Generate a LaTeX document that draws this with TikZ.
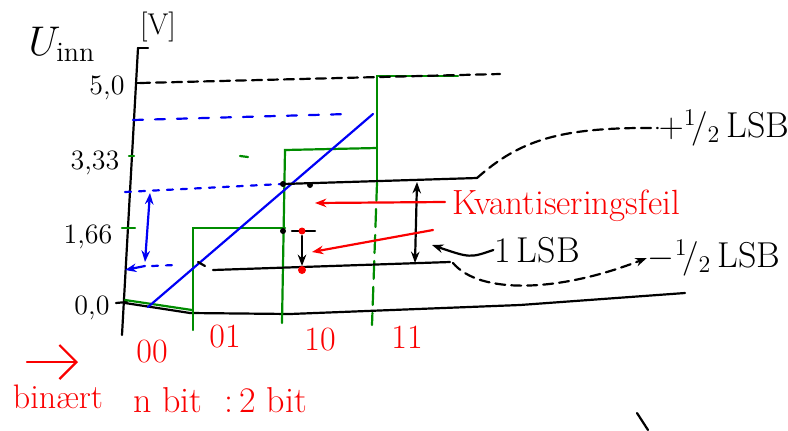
\documentclass[tikz,border=0pt]{standalone}
\usepackage{amsmath,amssymb}
\usepackage{tikz}
\usetikzlibrary{positioning,arrows.meta}
\usepackage{xcolor}
\definecolor{pengreen}{RGB}{0,140,0}
\definecolor{penred}{RGB}{250,0,0}
\definecolor{penblue}{RGB}{0,0,245}

\begin{document}
\begin{tikzpicture}[x=0.5pt,y=-0.5pt,>={Stealth[length=2mm]},line width=1.1pt,line cap=round,
  lbl/.style={font=\fontsize{14}{16}\selectfont,inner sep=0pt},
  redlbl/.style={lbl,text=penred},
  stair/.style={pengreen},
  ramp/.style={penblue},
  pendash/.style={dash pattern=on 5pt off 3pt}]
\useasboundingbox (0,0) rectangle (788,430);
% axes
\draw (138,48) -- (122,335);
\draw (138,48) -- (148,48);
\draw (116,303) -- (127,302);
\draw (125,303) -- (190,313) -- (290,314) -- (520,305) -- (685,293);
\node[lbl,font=\fontsize{20}{22}\selectfont] (uin) at (62,44) {$U_{\text{inn}}$};
\node[lbl,font=\fontsize{15}{17}\selectfont] (unit) at (158,27) {[V]};
\node[lbl] (t50) at (107,88) {5,0};
\node[lbl] (t33) at (95,163) {3,33};
\node[lbl] (t16) at (88,237) {1,66};
\node[lbl] (t00) at (92,308) {0,0};
% staircase
\draw[stair] (129,156) -- (134,156);
\draw[stair] (122,228) -- (135,228);
\draw[stair] (125,300) -- (192,310);
\draw[stair] (193,330) -- (193,228) -- (285,228);
\draw[stair] (282,323) -- (285,150) -- (377,148);
\draw[stair] (240,156) -- (248,157);
\draw[stair] (377,183) -- (377,76) -- (458,76);
\draw[stair,dash pattern=on 9pt off 4pt] (377,183) -- (372,325);
% ramp
\draw (137,83) -- (140,83);
\draw[pendash] (140,83) -- (500,74);
\draw[ramp] (148,307) -- (373,114);
\draw[ramp,dash pattern=on 5pt off 6pt] (133,120) -- (348,114);
\draw[ramp,dash pattern=on 3pt off 4pt] (125,192) -- (282,184);
\draw[ramp,<->] (150,193) -- (145,262);
\draw[ramp,->] (145,266) -- (125,270);
\draw[ramp,dash pattern=on 3pt off 4pt] (152,266) -- (175,265);
% error band
\coordinate (bandtop) at (477,178);
\coordinate (bandlow) at (453,263);
\draw (283,184) -- (bandtop);
\draw (213,270) -- (450,262);
\draw (198,262) -- (205,266);
\draw (292,231) -- (315,231);
\fill (283,184) circle (3);
\fill (310,185) circle (3);
\fill (283,231) circle (3);
\fill[penred] (302,231) circle (3.5);
\fill[penred] (302,270) circle (4);
\draw[->] (302,236) -- (302,266);
\draw[<->] (417,182) -- (415,263);
% labels
\node[lbl,font=\fontsize{18}{20}\selectfont] (plus) at (724,128) {$+{}^{1}\!/_{2}$\,LSB};
\node[lbl,font=\fontsize{18}{20}\selectfont] (minus) at (714,258) {$-{}^{1}\!/_{2}$\,LSB};
\node[lbl,font=\fontsize{18}{20}\selectfont] (lsb) at (537,250) {1\,LSB};
\node[redlbl,font=\fontsize{17.5}{20}\selectfont] (kfeil) at (566,206) {Kvantiseringsfeil};
\draw[pendash] (bandtop) .. controls (520,140) and (560,127) .. (plus.west);
\draw[pendash,->] (bandlow) .. controls (480,295) and (560,292) .. (minus.west);
\draw[->] (lsb.west) .. controls (470,258) .. (432,245);
\draw[penred,->] (445,202) -- (315,203);
\draw[penred,->] (433,230) -- (312,252);
% codes
\node[redlbl,font=\fontsize{17}{19}\selectfont] (c00) at (152,352) {00};
\node[redlbl,font=\fontsize{17}{19}\selectfont] (c01) at (225,337) {01};
\node[redlbl,font=\fontsize{17}{19}\selectfont] (c10) at (320,340) {10};
\node[redlbl,font=\fontsize{17}{19}\selectfont] (c11) at (407,337) {11};
\node[redlbl,font=\fontsize{17}{19}\selectfont] (bin) at (58,397) {binært};
\draw[penred,-{Straight Barb[length=3mm]}] (27,362) -- (78,362);
\node[redlbl,font=\fontsize{18}{20}\selectfont] (nbit) at (220,400) {n bit\ \ :\,2 bit};
\draw (637,413) -- (648,430);
\end{tikzpicture}
\end{document}
